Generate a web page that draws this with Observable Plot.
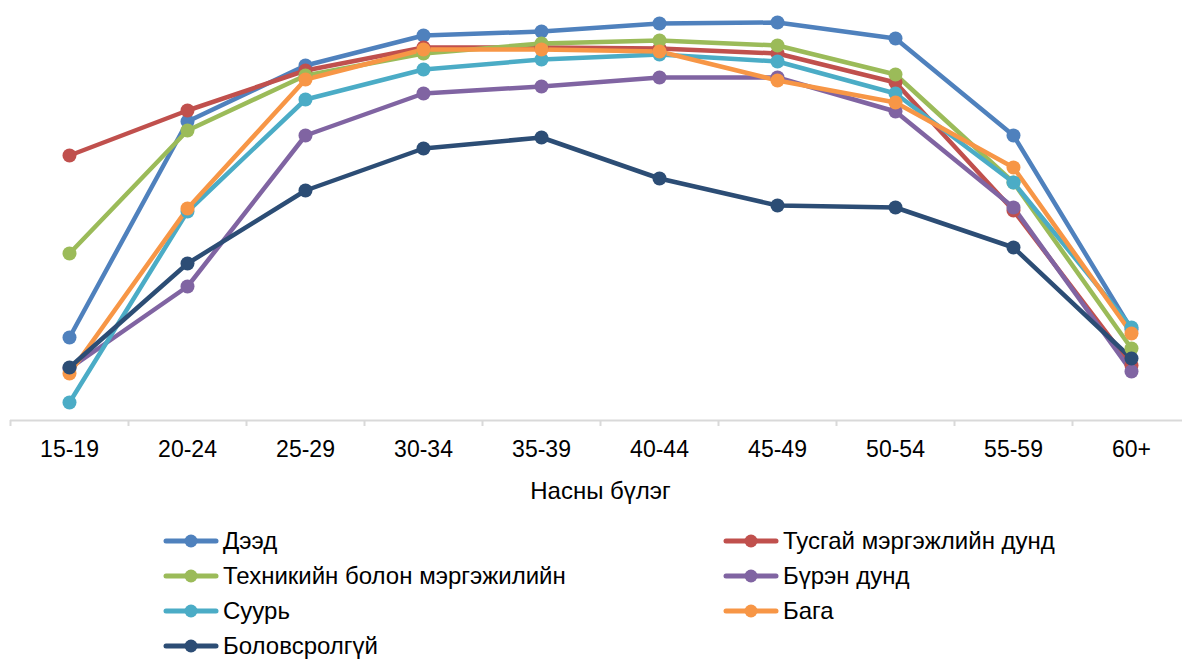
<!DOCTYPE html>
<html>
<head>
<meta charset="utf-8">
<script src="https://cdn.jsdelivr.net/npm/d3@7"></script>
<script src="https://cdn.jsdelivr.net/npm/@observablehq/plot@0.6"></script>
<style>
  html, body { margin: 0; padding: 0; background: #fff; overflow: hidden; }
  body { width: 1182px; height: 662px; font-family: "Liberation Sans", Arial, sans-serif; color: #000; }
  #legend { position: relative; height: 152px; }
  .item { position: absolute; display: flex; align-items: center; font-size: 24px; line-height: 26px; white-space: nowrap; }
  .item svg { display: block; margin-right: 4px; }
</style>
</head>
<body>
<div id="chart"></div>
<div id="legend"></div>
<script>
const ageGroups = ["15-19", "20-24", "25-29", "30-34", "35-39", "40-44", "45-49", "50-54", "55-59", "60+"];
const xLabel = "Насны бүлэг";

const seriesNames = [
  "Дээд",
  "Тусгай мэргэжлийн дунд",
  "Техникийн болон мэргэжилийн",
  "Бүрэн дунд",
  "Суурь",
  "Бага",
  "Боловсролгүй"
];
const seriesColors = ["#4F81BD", "#C0504D", "#9BBB59", "#8064A2", "#4BACC6", "#F79646", "#2C4D75"];

const deed        = [20.75, 74.75, 88.75, 96.25, 97.25, 99.25, 99.5, 95.5, 71.25, 22.75];
const tusgai      = [66.25, 77.5, 87.5, 93.25, 93.25, 93.0, 91.75, 84.5, 52.5, 13.75];
const tekhnik     = [41.75, 72.5, 86.25, 91.75, 94.25, 95.0, 93.75, 86.5, 59.5, 18.0];
const buren       = [13.0, 33.5, 71.25, 81.75, 83.5, 85.75, 85.75, 77.25, 53.25, 12.25];
const suuri       = [4.5, 52.25, 80.25, 87.75, 90.25, 91.5, 89.75, 81.75, 59.5, 23.25];
const baga        = [11.75, 53.0, 85.25, 92.75, 92.75, 92.25, 85.0, 79.5, 63.25, 21.75];
const bolovsrolgui= [13.25, 39.25, 57.5, 68.0, 70.75, 60.5, 53.75, 53.25, 43.25, 15.5];

const seriesValues = [deed, tusgai, tekhnik, buren, suuri, baga, bolovsrolgui];

const data = [];
seriesNames.forEach((name, s) => {
  seriesValues[s].forEach((v, i) => data.push({series: name, i, age: ageGroups[i], value: v}));
});

const centers = ageGroups.map((_, i) => i);
const boundaries = ageGroups.map((_, i) => i - 0.5).concat([ageGroups.length - 0.5]);

const chart = Plot.plot({
  width: 1182,
  height: 510,
  marginTop: 0,
  marginLeft: 10,
  marginRight: 0,
  marginBottom: 90,
  style: {fontFamily: "'Liberation Sans', Arial, sans-serif", fontSize: "23px", color: "#000", background: "#fff", overflow: "visible"},
  x: {domain: [-0.5, ageGroups.length - 0.5], range: [10, 1190]},
  y: {domain: [0, 105], axis: null},
  color: {domain: seriesNames, range: seriesColors},
  marks: [
    Plot.ruleY([0], {stroke: "#d9d9d9", strokeWidth: 2}),
    Plot.axisX(boundaries, {tickSize: 6, tickFormat: () => "", stroke: "#d9d9d9", strokeWidth: 2, label: null, strokeOpacity: 1}),
    Plot.axisX(centers, {tickSize: 0, tickPadding: 20, tickFormat: i => ageGroups[i], label: null, fill: "#000"}),
    Plot.text([xLabel], {x: (ageGroups.length - 1) / 2, frameAnchor: "bottom", dy: 78, fill: "#000", fontSize: 24}),
    Plot.line(data, {x: "i", y: "value", z: "series", stroke: "series", strokeWidth: 4.5, strokeLinejoin: "round", strokeLinecap: "round"}),
    Plot.dot(data, {x: "i", y: "value", fill: "series", r: 7, stroke: "none"})
  ]
});
document.getElementById("chart").appendChild(chart);

// Legend (two columns, order as in the reference)
const legend = document.getElementById("legend");
const colX = [163, 723];
seriesNames.forEach((name, s) => {
  const col = s % 2, row = Math.floor(s / 2);
  const div = document.createElement("div");
  div.className = "item";
  div.style.left = colX[col] + "px";
  div.style.top = (14 + row * 35) + "px";
  div.style.height = "34px";
  const c = seriesColors[s];
  div.innerHTML = `<svg width="56" height="16"><line x1="3" y1="8" x2="53" y2="8" stroke="${c}" stroke-width="5" stroke-linecap="round"/><circle cx="28" cy="8" r="6.5" fill="${c}"/></svg><span>${name}</span>`;
  legend.appendChild(div);
});
</script>
</body>
</html>
